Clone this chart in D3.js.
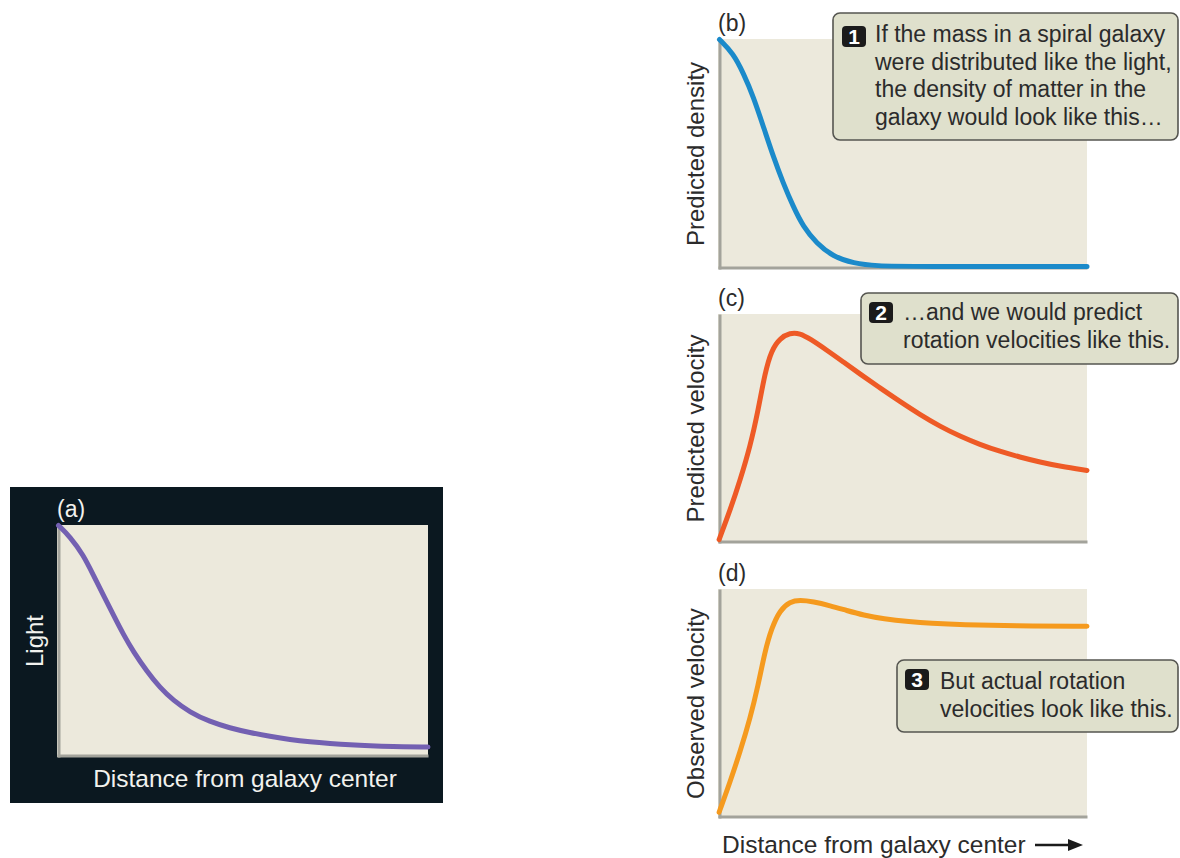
<!DOCTYPE html>
<html><head><meta charset="utf-8">
<script src="https://cdn.jsdelivr.net/npm/d3@7/dist/d3.min.js"></script>
<style>
html,body{margin:0;padding:0;background:#fff;}
svg text{font-family:"Liberation Sans",Arial,Helvetica,sans-serif;}
</style></head>
<body><svg id="chart" width="1180" height="858"></svg>
<script>
// ---- Data (normalized distance 0..1, normalized value 0..1) ----
const lightX   = [0.004,0.035,0.071,0.098,0.125,0.152,0.179,0.206,0.242,0.278,0.313,0.358,0.412,0.466,0.520,0.574,0.628,0.682,0.736,0.790,0.844,0.898,1.0];
const lightY   = [0.998,0.950,0.871,0.784,0.698,0.612,0.528,0.454,0.370,0.298,0.245,0.193,0.152,0.125,0.105,0.089,0.075,0.065,0.058,0.052,0.048,0.045,0.043];

const densityX = [0.004,0.041,0.069,0.096,0.123,0.150,0.177,0.204,0.231,0.267,0.312,0.367,0.430,0.520,1.0];
const densityY = [0.998,0.938,0.851,0.749,0.619,0.488,0.372,0.271,0.184,0.112,0.054,0.025,0.013,0.011,0.011];

const predVelX = [0.003,0.033,0.060,0.087,0.109,0.127,0.145,0.168,0.195,0.222,0.249,0.295,0.340,0.385,0.439,0.493,0.547,0.602,0.656,0.710,0.764,0.818,0.873,0.927,1.0];
const predVelY = [0.015,0.144,0.275,0.421,0.581,0.741,0.843,0.894,0.918,0.916,0.892,0.842,0.790,0.738,0.677,0.618,0.561,0.509,0.466,0.430,0.400,0.375,0.353,0.335,0.317];

const obsVelX  = [0.003,0.033,0.060,0.087,0.109,0.127,0.145,0.168,0.195,0.222,0.258,0.304,0.349,0.394,0.448,0.520,0.574,0.664,0.799,1.0];
const obsVelY  = [0.025,0.159,0.290,0.435,0.581,0.726,0.828,0.908,0.945,0.952,0.945,0.927,0.906,0.886,0.870,0.857,0.850,0.843,0.839,0.837];

const panelLabels = ["(a)","(b)","(c)","(d)"];
const yTitles = ["Light","Predicted density","Predicted velocity","Observed velocity"];
const xTitle = "Distance from galaxy center";
const callout1 = ["If the mass in a spiral galaxy","were distributed like the light,","the density of matter in the","galaxy would look like this…"];
const callout2 = ["…and we would predict","rotation velocities like this."];
const callout3 = ["But actual rotation","velocities look like this."];

const svg = d3.select("#chart");
const plotBg = "#ECE9DC", axisCol = "#A3A39B";

function panel(cfg){
  const g = svg.append("g");
  const x = d3.scaleLinear().domain([0,1]).range([cfg.x0,cfg.x1]);
  const y = d3.scaleLinear().domain([0,1]).range([cfg.y1,cfg.y0]);
  g.append("rect").attr("x",cfg.x0).attr("y",cfg.y0).attr("width",cfg.x1-cfg.x0).attr("height",cfg.y1-cfg.y0).attr("fill",plotBg);
  const ax = g.append("g").attr("transform",`translate(${cfg.x0+1.5},0)`).call(d3.axisLeft(y).ticks(0).tickSizeOuter(0));
  const bx = g.append("g").attr("transform",`translate(0,${cfg.y1-1.5})`).call(d3.axisBottom(x).ticks(0).tickSizeOuter(0));
  [ax,bx].forEach(a=>a.select(".domain").attr("stroke",axisCol).attr("stroke-width",3));
  const pts = cfg.xs.map((v,i)=>[v,cfg.ys[i]]);
  const line = d3.line().x(d=>x(d[0])).y(d=>y(d[1])).curve(d3.curveBasis);
  g.append("path").datum(pts).attr("d",line).attr("fill","none").attr("stroke",cfg.color).attr("stroke-width",5).attr("stroke-linecap","round");
  g.append("text").attr("x",cfg.x0).attr("y",cfg.y0-8).attr("font-size",23).attr("fill",cfg.textCol).text(cfg.label);
  g.append("text").attr("transform",`translate(${cfg.titleX},${(cfg.y0+cfg.y1)/2}) rotate(-90)`).attr("text-anchor","middle").attr("font-size",24).attr("fill",cfg.textCol).text(cfg.title);
  return g;
}

function callout(cfg){
  const g = svg.append("g");
  g.append("rect").attr("x",cfg.x).attr("y",cfg.y).attr("width",cfg.w).attr("height",cfg.h).attr("rx",7)
   .attr("fill","#DFE0CC").attr("stroke","#555550").attr("stroke-width",1.6);
  g.append("rect").attr("x",cfg.bx).attr("y",cfg.by).attr("width",24).attr("height",21).attr("rx",4).attr("fill","#1b1b1b");
  g.append("text").attr("x",cfg.bx+12).attr("y",cfg.by+18).attr("text-anchor","middle").attr("font-size",21).attr("font-weight","bold").attr("fill","#fff").text(cfg.num);
  cfg.lines.forEach((t,i)=>{
    g.append("text").attr("x",cfg.tx).attr("y",cfg.ty+i*27.5).attr("font-size",23).attr("fill","#2b2b2b").text(t);
  });
}

// Panel (a) dark frame
svg.append("rect").attr("x",10).attr("y",487).attr("width",433).attr("height",316).attr("fill","#0B1820");
panel({x0:57,x1:428,y0:525,y1:757,xs:lightX,ys:lightY,color:"#7360B2",label:panelLabels[0],title:yTitles[0],titleX:43,textCol:"#F2F2EE"});
svg.append("text").attr("x",245).attr("y",787).attr("text-anchor","middle").attr("font-size",24.5).attr("fill","#F2F2EE").text(xTitle);

panel({x0:718,x1:1087,y0:39,y1:269,xs:densityX,ys:densityY,color:"#1B8ACA",label:panelLabels[1],title:yTitles[1],titleX:704,textCol:"#2b2b2b"});
panel({x0:718,x1:1087,y0:314,y1:543,xs:predVelX,ys:predVelY,color:"#EE5A26",label:panelLabels[2],title:yTitles[2],titleX:704,textCol:"#2b2b2b"});
panel({x0:718,x1:1087,y0:589,y1:818,xs:obsVelX,ys:obsVelY,color:"#F59A1E",label:panelLabels[3],title:yTitles[3],titleX:704,textCol:"#2b2b2b"});

svg.append("text").attr("x",722).attr("y",853).attr("font-size",24.5).attr("fill","#2b2b2b").text(xTitle);
svg.append("line").attr("x1",1035).attr("x2",1072).attr("y1",845).attr("y2",845).attr("stroke","#1b1b1b").attr("stroke-width",2.5);
svg.append("path").attr("d",d3.line()([[1068,839],[1083,845],[1068,851]])).attr("fill","#1b1b1b");

callout({x:833,y:13,w:345,h:127,bx:842,by:26,num:"1",tx:875,ty:42,lines:callout1});
callout({x:861,y:293,w:317,h:71,bx:869,by:302,num:"2",tx:903,ty:320,lines:callout2});
callout({x:897,y:660,w:281,h:72,bx:905,by:669,num:"3",tx:940,ty:689,lines:callout3});
</script></body></html>
